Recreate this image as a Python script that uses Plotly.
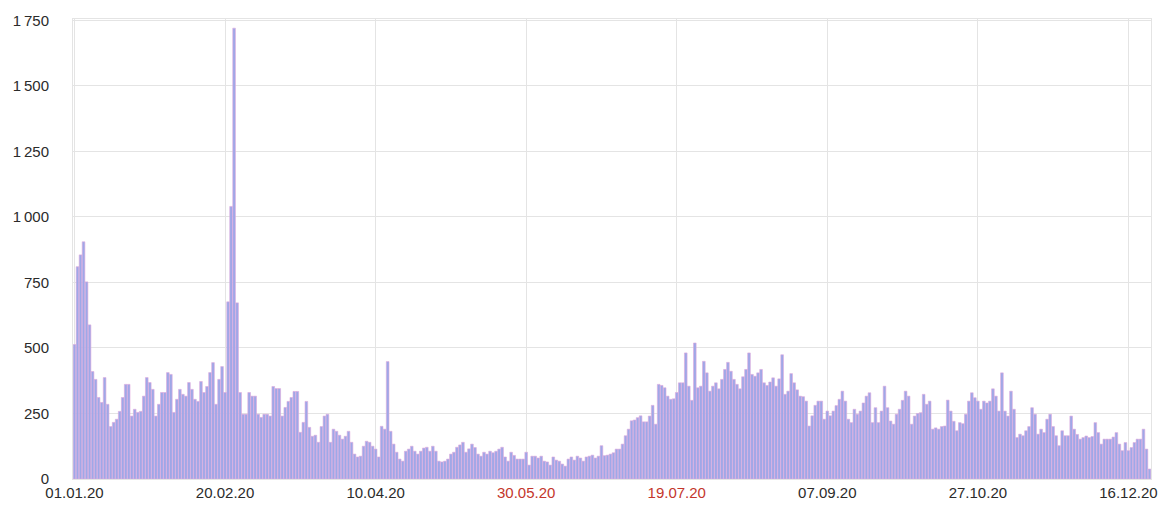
import plotly.graph_objects as go

# Daily counts, 01.01.2020 - 23.12.2020
jan_feb = [
    513, 810, 855, 905, 752, 588, 410, 380, 311, 292,
    387, 285, 200, 216, 228, 258, 311, 361, 361, 240,
    266, 254, 258, 316, 387, 368, 342, 240, 285, 330,
    330, 406, 399, 254, 304, 342, 323, 316, 368, 342,
    304, 296, 372, 330, 353, 406, 444, 285, 380, 429,
    330,
]
feb_may = [
    676, 1040, 1720, 672, 330, 247, 247, 330, 316,
    316, 247, 235, 247, 247, 240, 353, 345, 345, 240,
    273, 296, 311, 334, 334, 178, 216, 296, 197, 163,
    167, 140, 200, 240, 247, 140, 190, 182, 167, 152,
    163, 182, 140, 95, 84, 87, 125, 144, 140, 125,
    114, 84, 201, 190, 448, 182, 133, 102, 76, 68,
    106, 114, 125, 106, 95, 106, 118, 121, 106, 125,
    106, 68, 65, 68, 76, 95, 102, 121, 130, 140,
    102, 115,
]
may_jun = [
    133, 120, 95, 87, 102, 95, 106, 100, 106, 114,
    121, 84, 68, 102, 90, 76, 76, 76, 102, 53,
    87, 87, 80, 87, 68, 65, 53, 84, 72, 68,
    57, 49, 76, 84, 72, 87, 80, 68, 84, 87,
    91, 80, 87,
]
jun_sep = [
    127, 89, 91, 95, 100, 114, 114, 133, 165, 190,
    222, 225, 234, 241, 218, 218, 240, 281, 209, 361,
    357, 348, 316, 304, 306, 330, 367, 367, 481, 354,
    300, 519, 348, 354, 449, 405, 335, 354, 367, 344,
    380, 418, 445, 411, 380, 361, 344, 390, 418, 481,
    399, 392, 405, 418, 367, 357, 370, 386, 354, 382,
    474, 323, 335, 402, 367, 340, 316, 314, 297, 202,
    241, 281, 297, 297, 228, 259, 241, 259, 280, 304,
    335, 297, 228, 215, 266, 247, 259, 290, 316, 329,
    215, 272, 215,
]
sep_dec = [
    259,
    354, 272, 221, 209, 247, 266, 300, 335, 316, 209,
    240, 250, 253, 323, 285, 297, 190, 195, 190, 200,
    202, 301, 259, 220, 184, 215, 211, 247, 297, 329,
    310, 297, 266, 297, 290, 297, 344, 316, 259, 405,
    259, 240, 335, 266, 158, 171, 165, 184, 200, 272,
    247, 171, 190, 177, 228, 247, 200, 165, 127, 184,
    165, 165, 240, 190, 170, 152, 158,
    164, 158, 162, 215, 177, 133, 152, 152, 152, 160,
    177, 133, 108, 139, 108, 120, 139, 152, 152, 190,
    114, 38,
]

values = jan_feb + feb_may + may_jun + jun_sep + sep_dec
days = list(range(len(values)))

tick_days = [0, 50, 100, 150, 200, 250, 300, 350]
tick_labels = ["01.01.20", "20.02.20", "10.04.20", "30.05.20",
               "19.07.20", "07.09.20", "27.10.20", "16.12.20"]
highlight = {"30.05.20", "19.07.20"}
tick_text = [
    f'<span style="color:#c4362c">{t}</span>' if t in highlight else t
    for t in tick_labels
]

y_ticks = [0, 250, 500, 750, 1000, 1250, 1500, 1750]
y_text = [f"{v:,}".replace(",", "\u2009") if v >= 1000 else str(v) for v in y_ticks]

fig = go.Figure()
fig.add_trace(go.Bar(
    x=days, y=values,
    marker=dict(color="#9ea8e8", line=dict(color="#dfa8dc", width=0.6)),
    hoverinfo="x+y",
))

fig.update_layout(
    width=1173, height=513,
    margin=dict(l=73, r=22, t=17, b=33),
    paper_bgcolor="white", plot_bgcolor="white",
    bargap=0.12,
    showlegend=False,
    font=dict(family="Liberation Sans, Arial, sans-serif", size=15, color="#2b2b2b"),
)
fig.update_xaxes(
    range=[-0.5, len(values) - 0.5],
    tickmode="array", tickvals=tick_days, ticktext=tick_text,
    showgrid=True, gridcolor="#e4e4e4", gridwidth=1,
    showline=True, linecolor="#e4e4e4", mirror=True,
    zeroline=False, ticks="",
)
fig.update_yaxes(
    range=[0, 1755],
    tickmode="array", tickvals=y_ticks, ticktext=y_text,
    showgrid=True, gridcolor="#e4e4e4", gridwidth=1,
    showline=True, linecolor="#e4e4e4", mirror=True,
    zeroline=False,
    ticks="outside", ticklen=20, tickcolor="rgba(0,0,0,0)",
)

fig.write_html("out.html")
